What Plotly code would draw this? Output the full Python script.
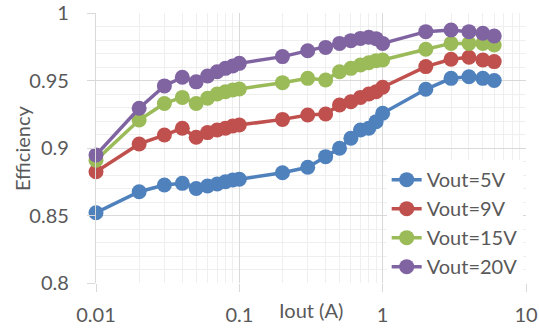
import plotly.graph_objects as go

iout = [0.01, 0.02, 0.03, 0.04, 0.05, 0.06, 0.07, 0.08, 0.09, 0.1,
        0.2, 0.3, 0.4, 0.5, 0.6, 0.7, 0.8, 0.9, 1, 2, 3, 4, 5, 6]

eff_5v = [0.852, 0.8676, 0.8726, 0.8738, 0.870, 0.8719, 0.8733, 0.875, 0.8763, 0.8768,
          0.8817, 0.8857, 0.8936, 0.8998, 0.9072, 0.9133, 0.9146, 0.9195, 0.9257,
          0.9435, 0.9516, 0.9528, 0.9516, 0.950]
eff_9v = [0.8824, 0.903, 0.9096, 0.9146, 0.908, 0.9114, 0.9133, 0.9146, 0.9163, 0.917,
          0.9212, 0.9244, 0.9252, 0.9319, 0.9343, 0.9375, 0.940, 0.9417, 0.945,
          0.9603, 0.9657, 0.9672, 0.9652, 0.964]
eff_15v = [0.891, 0.9207, 0.933, 0.9375, 0.933, 0.9368, 0.940, 0.9417, 0.943, 0.9437,
           0.9484, 0.9516, 0.9504, 0.9565, 0.959, 0.9615, 0.9632, 0.9647, 0.9652,
           0.9731, 0.9775, 0.9775, 0.9775, 0.9763]
eff_20v = [0.8948, 0.9294, 0.946, 0.9524, 0.949, 0.9533, 0.9565, 0.959, 0.9607, 0.9627,
           0.9677, 0.972, 0.9745, 0.9775, 0.9795, 0.9812, 0.982, 0.981, 0.9775,
           0.9862, 0.9874, 0.9862, 0.985, 0.983]

series_names = ["Vout=5V", "Vout=9V", "Vout=15V", "Vout=20V"]
series_vals = [eff_5v, eff_9v, eff_15v, eff_20v]
colors = ["#4F81BD", "#C0504D", "#9BBB59", "#8064A2"]

x_tickvals = [0.01, 0.1, 1, 10]
x_ticktext = ["0.01", "0.1", "1", "10"]
y_tickvals = [0.8, 0.85, 0.9, 0.95, 1.0]
y_ticktext = ["0.8", "0.85", "0.9", "0.95", "1"]

FONT = "Lato"
TXT = "#595959"

fig = go.Figure()
for name, vals, c in zip(series_names, series_vals, colors):
    fig.add_trace(go.Scatter(
        x=iout, y=vals, name=name, mode="lines+markers",
        line=dict(color=c, width=3.5),
        marker=dict(color=c, size=15),
        cliponaxis=False,
    ))

fig.update_layout(
    width=539, height=330,
    margin=dict(l=96, r=13, t=13, b=47, autoexpand=False),
    paper_bgcolor="white", plot_bgcolor="white",
    font=dict(family=FONT, size=20, color=TXT),
    showlegend=True,
    legend=dict(
        x=0.676, y=0.455, xanchor="left", yanchor="top",
        bgcolor="white", font=dict(family=FONT, size=20, color=TXT),
        tracegroupgap=0, itemwidth=30,
    ),
    annotations=[
        dict(text="Iout (A)", xref="paper", yref="paper", x=0.5, y=-0.1,
             xanchor="center", yanchor="middle", showarrow=False,
             font=dict(family=FONT, size=20, color=TXT)),
        dict(text="Efficiency", xref="paper", yref="paper", x=-0.172, y=0.5,
             xanchor="center", yanchor="middle", showarrow=False, textangle=-90,
             font=dict(family=FONT, size=20, color=TXT)),
    ],
)

fig.update_xaxes(
    type="log", range=[-2, 1], automargin=False,
    tickvals=x_tickvals, ticktext=x_ticktext,
    showgrid=True, gridcolor="#D9D9D9", gridwidth=1.3,
    ticks="outside", ticklen=8, tickcolor="#D9D9D9", tickwidth=1.3,
    ticklabelstandoff=6,
    minor=dict(dtick="D1", showgrid=True, gridcolor="#EFEFEF", gridwidth=1.3, ticks=""),
    showline=False, zeroline=False,
)
fig.update_yaxes(
    range=[0.8, 1.0], automargin=False,
    tickvals=y_tickvals, ticktext=y_ticktext,
    showgrid=True, gridcolor="#D9D9D9", gridwidth=1.3,
    ticks="outside", ticklen=8, tickcolor="#D9D9D9", tickwidth=1.3,
    ticklabelstandoff=14,
    minor=dict(dtick=0.01, showgrid=True, gridcolor="#EFEFEF", gridwidth=1.3, ticks=""),
    showline=True, linecolor="#D9D9D9", linewidth=1.3, zeroline=False,
)

fig.write_html("out.html")
